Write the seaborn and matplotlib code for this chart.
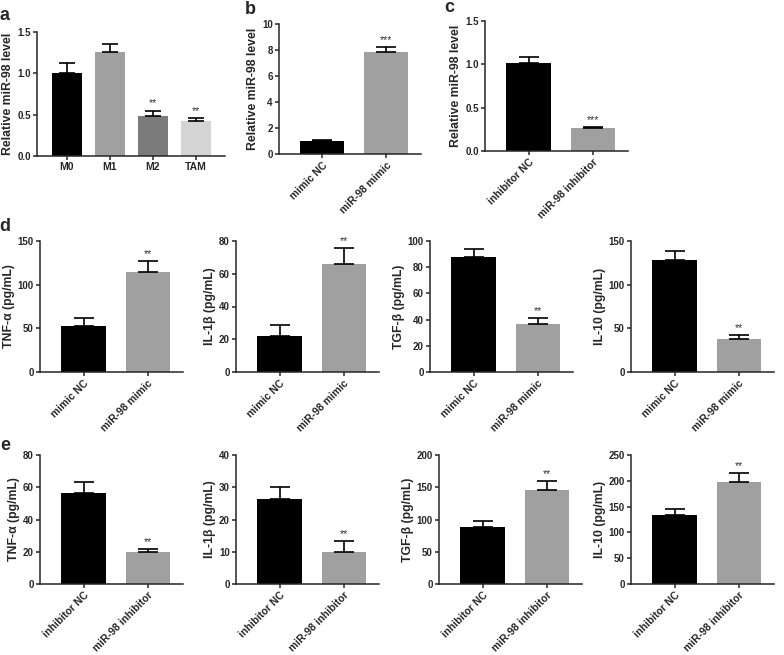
import numpy as np
import pandas as pd
import matplotlib
matplotlib.use('Agg')
import matplotlib.pyplot as plt
import seaborn as sns

# panel a
groups_a = ['M0', 'M1', 'M2', 'TAM']
mean_a = [1.01, 1.255, 0.485, 0.425]
err_a = [0.11, 0.10, 0.065, 0.03]
stars_a = ['', '', '**', '**']
colors_a = ['#000000', '#a0a0a0', '#7b7b7b', '#d4d4d4']

# panels b, c
mimic_groups = ['mimic NC', 'miR-98 mimic']
inhib_groups = ['inhibitor NC', 'miR-98 inhibitor']
mean_b = [1.03, 7.82]
err_b = [0.08, 0.38]
mean_c = [1.01, 0.26]
err_c = [0.08, 0.015]

# panel d (mimic), order: TNF-a, IL-1b, TGF-b, IL-10
cytokines = ['TNF-α (pg/mL)', 'IL-1β (pg/mL)', 'TGF-β (pg/mL)', 'IL-10 (pg/mL)']
mean_d = [[53, 115], [22, 66], [88, 36.5], [128, 37.5]]
err_d = [[9, 12], [7, 9.5], [6, 4.5], [10, 5]]
ymax_d = [150, 80, 100, 150]
ystep_d = [50, 20, 20, 50]

# panel e (inhibitor)
mean_e = [[56.5, 20], [26.5, 9.8], [88, 146], [133, 197]]
err_e = [[7, 1.8], [3.5, 3.6], [9, 14], [12, 18]]
ymax_e = [80, 40, 200, 250]
ystep_e = [20, 10, 50, 50]

pair_colors = ['#000000', '#a0a0a0']

sns.set_style('ticks')
plt.rcParams['font.family'] = ['Liberation Sans', 'DejaVu Sans']
plt.rcParams['font.weight'] = 'bold'
plt.rcParams['axes.labelweight'] = 'bold'
plt.rcParams['axes.linewidth'] = 1.1
plt.rcParams['xtick.major.width'] = 1.1
plt.rcParams['ytick.major.width'] = 1.1
plt.rcParams['xtick.major.size'] = 3
plt.rcParams['ytick.major.size'] = 3

W, H = 784, 655
fig = plt.figure(figsize=(W / 100, H / 100), dpi=100)


def add_ax(left, right, top, bottom):
    return fig.add_axes([left / W, 1 - bottom / H, (right - left) / W, (bottom - top) / H])


def panel(ax, groups, means, errs, colors, ylabel, ymax, ystep, stars, rotate, capsize):
    df = pd.DataFrame({'group': groups, 'value': means})
    sns.barplot(data=df, x='group', y='value', hue='group', palette=colors,
                width=0.69, legend=False, ax=ax, saturation=1, linewidth=0)
    x = np.arange(len(groups))
    ax.errorbar(x, means, yerr=[np.zeros(len(errs)), errs], fmt='none',
                ecolor='black', elinewidth=1.2, capsize=capsize, capthick=1.2, zorder=1)
    for i, s in enumerate(stars):
        if s:
            ax.annotate(s, (i, means[i] + errs[i]), xytext=(0, 1.5), textcoords='offset points',
                        ha='center', va='bottom', fontsize=7.5, color='#333333', fontweight='normal')
    ax.set_ylim(0, ymax)
    ax.set_yticks(np.arange(0, ymax + ystep / 2, ystep))
    ax.set_ylabel(ylabel, fontsize=8.8, labelpad=2)
    ax.set_xlabel('')
    ax.tick_params(axis='y', labelsize=7, pad=1.5)
    ax.tick_params(axis='x', labelsize=7.5, pad=1.5)
    if rotate:
        plt.setp(ax.get_xticklabels(), rotation=45, ha='right', rotation_mode='anchor')
    sns.despine(ax=ax)


# a
ax = add_ax(37, 225, 32, 156)
panel(ax, groups_a, mean_a, err_a, colors_a, 'Relative miR-98 level', 1.5, 0.5, stars_a, False, 6)
ax.set_xlim(-0.69, 3.67)
ax.set_yticks([0, 0.5, 1.0, 1.5])
ax.set_yticklabels(['0.0', '0.5', '1.0', '1.5'])

# b
ax = add_ax(279, 421, 24, 154)
panel(ax, mimic_groups, mean_b, err_b, pair_colors, 'Relative miR-98 level', 10, 2, ['', '***'], True, 7.5)
ax.set_xlim(-0.68, 1.55)

# c
ax = add_ax(485, 628, 21, 151)
panel(ax, inhib_groups, mean_c, err_c, pair_colors, 'Relative miR-98 level', 1.5, 0.5, ['', '***'], True, 7.5)
ax.set_xlim(-0.68, 1.55)
ax.set_yticklabels(['0.0', '0.5', '1.0', '1.5'])

lefts_d = [40, 236, 430, 631]
lefts_e = [40, 236, 439, 631]
for k in range(4):
    ax = add_ax(lefts_d[k], lefts_d[k] + 143, 241, 372)
    panel(ax, mimic_groups, mean_d[k], err_d[k], pair_colors, cytokines[k],
          ymax_d[k], ystep_d[k], ['', '**'], True, 7.5)
    ax.set_xlim(-0.68, 1.55)
    ax = add_ax(lefts_e[k], lefts_e[k] + 143, 455, 584)
    panel(ax, inhib_groups, mean_e[k], err_e[k], pair_colors, cytokines[k],
          ymax_e[k], ystep_e[k], ['', '**'], True, 7.5)
    ax.set_xlim(-0.68, 1.55)

for letter, (px, py) in zip('abcde', [(5, 15), (250, 9), (449, 7), (5, 227), (5, 445)]):
    fig.text(px / W, 1 - py / H, letter, fontsize=13, fontweight='bold', ha='center', va='center')

fig.savefig('out.png', dpi=100)
